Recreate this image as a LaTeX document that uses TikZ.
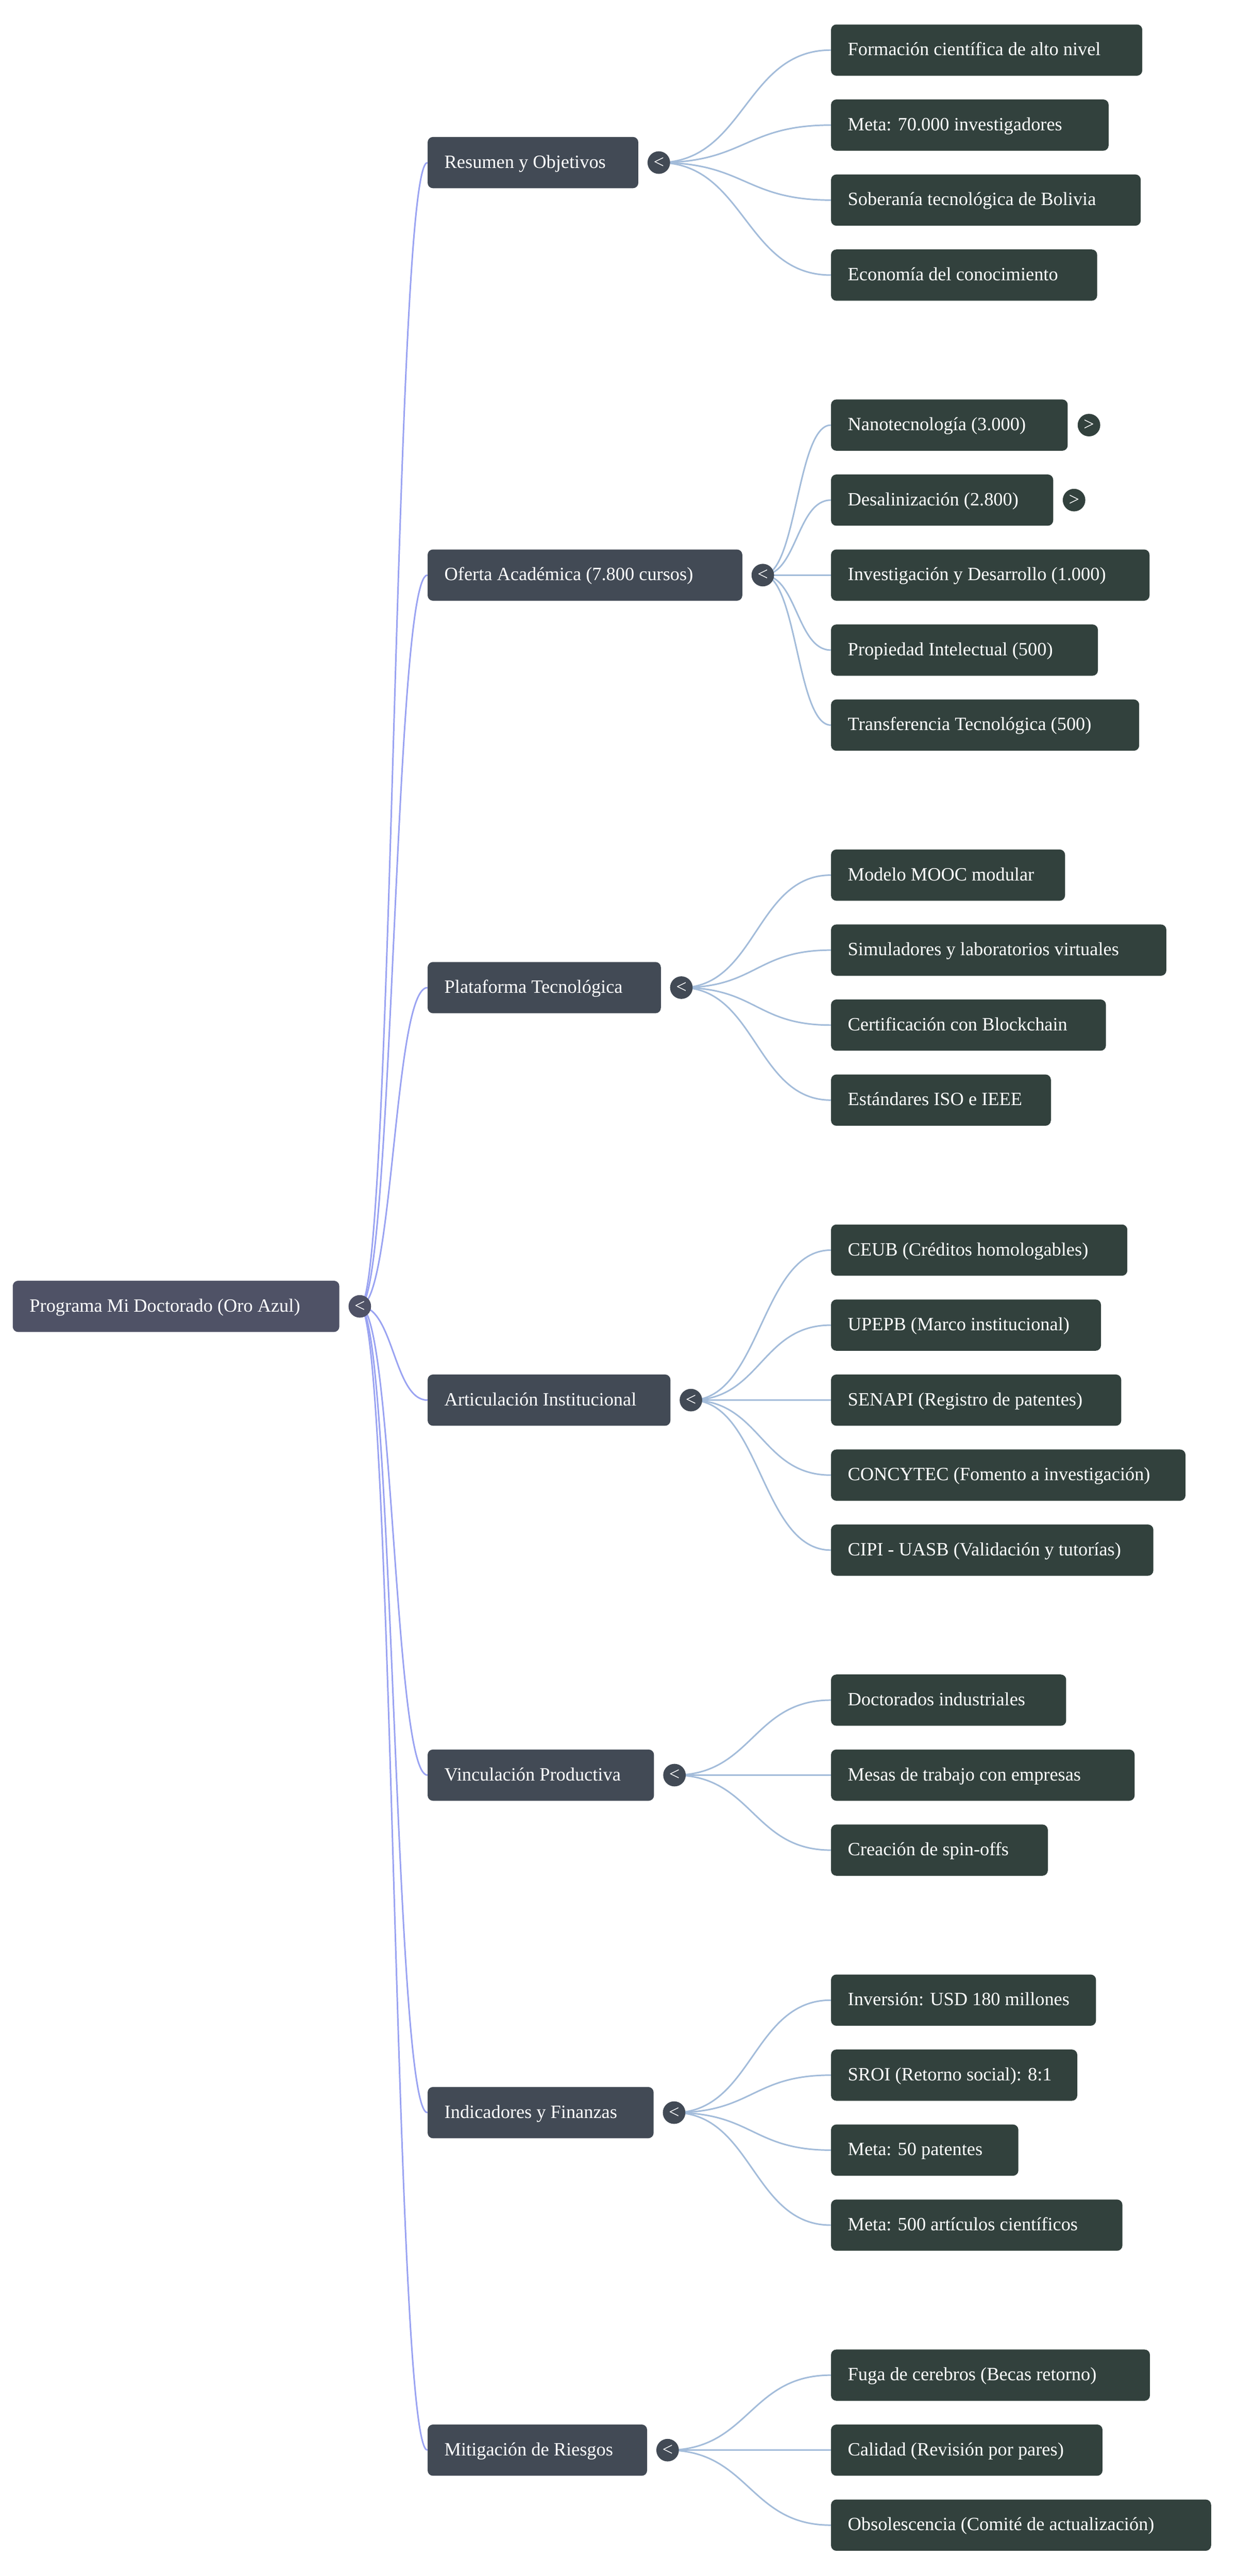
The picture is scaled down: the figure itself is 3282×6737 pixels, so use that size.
\documentclass[tikz,border=0pt]{standalone}
\usepackage{fontspec}
\setmainfont{Liberation Serif}
\usetikzlibrary{calc,backgrounds}
\definecolor{rootc}{HTML}{4F5266}
\definecolor{lvlc}{HTML}{424A55}
\definecolor{leafc}{HTML}{32413D}
\definecolor{rootedgec}{HTML}{9AA3F2}
\definecolor{leafedgec}{HTML}{A3BCDA}
% style, name, left x (px), y (px), right x (px), text
\newcommand\mmbox[6]{%
  \pgfmathsetmacro\mmw{(#5-#3)*0.5-44}%
  \node[#1, anchor=west] (#2) at (#3,#4) {\makebox[\mmw pt][l]{#6}};%
}
% name, x, y, colour, glyph
\newcommand\mmtog[5]{%
  \node[togg, fill=#4] (#1) at (#2,#3) {#5};%
}
% style, from, to
\newcommand\mmlink[3]{%
  \coordinate (mmtmp) at ($(#2)!0.5!(#3)$);%
  \draw[#1] (#2) .. controls (mmtmp |- #2) and (mmtmp |- #3) .. (#3);%
}
\begin{document}
\begin{tikzpicture}[x=0.5pt,y=-0.5pt,
  mmboxs/.style={rounded corners=7pt, inner xsep=22pt, inner ysep=0pt,
    minimum height=67pt, text=white, font=\fontsize{24.5pt}{29pt}\selectfont,
    text height=18.4pt, text depth=4.2pt},
  rootbox/.style={mmboxs, fill=rootc},
  lvlbox/.style={mmboxs, fill=lvlc},
  leafbox/.style={mmboxs, fill=leafc},
  togg/.style={circle, minimum size=29.5pt, inner sep=0pt, text=white,
    font=\fontsize{24.5pt}{29pt}\selectfont},
  rootlink/.style={draw=rootedgec, line width=2pt},
  leaflink/.style={draw=leafedgec, line width=2pt}]
\useasboundingbox (0,0) rectangle (3282,6737);

% root
\mmbox{rootbox}{root}{33}{3416.5}{887}{Programa Mi Doctorado (Oro Azul)}
\mmtog{roott}{941}{3416.5}{rootc}{<}

% level 1
\mmbox{lvlbox}{r1}{1118}{425.2}{1669}{Resumen y Objetivos}
\mmtog{r1t}{1723}{425.2}{lvlc}{<}
\mmbox{lvlbox}{r2}{1118}{1504.05}{1941}{Oferta Académica (7.800 cursos)}
\mmtog{r2t}{1995}{1504.05}{lvlc}{<}
\mmbox{lvlbox}{r3}{1118}{2582.9}{1728}{Plataforma Tecnológica}
\mmtog{r3t}{1782}{2582.9}{lvlc}{<}
\mmbox{lvlbox}{r4}{1118}{3661.7}{1753}{Articulación Institucional}
\mmtog{r4t}{1807}{3661.7}{lvlc}{<}
\mmbox{lvlbox}{r5}{1118}{4642.45}{1710}{Vinculación Productiva}
\mmtog{r5t}{1764}{4642.45}{lvlc}{<}
\mmbox{lvlbox}{r6}{1118}{5525.1}{1709}{Indicadores y Finanzas}
\mmtog{r6t}{1763}{5525.1}{lvlc}{<}
\mmbox{lvlbox}{r7}{1118}{6407.8}{1692}{Mitigación de Riesgos}
\mmtog{r7t}{1746}{6407.8}{lvlc}{<}

% leaves
\mmbox{leafbox}{a1}{2173}{131}{2987}{Formación científica de alto nivel}
\mmbox{leafbox}{a2}{2173}{327.15}{2899}{Meta: 70.000 investigadores}
\mmbox{leafbox}{a3}{2173}{523.3}{2983}{Soberanía tecnológica de Bolivia}
\mmbox{leafbox}{a4}{2173}{719.45}{2869}{Economía del conocimiento}

\mmbox{leafbox}{b1}{2173}{1111.75}{2792}{Nanotecnología (3.000)}
\mmtog{b1t}{2848}{1111.75}{leafc}{>}
\mmbox{leafbox}{b2}{2173}{1307.9}{2754}{Desalinización (2.800)}
\mmtog{b2t}{2809}{1307.9}{leafc}{>}
\mmbox{leafbox}{b3}{2173}{1504.05}{3006}{Investigación y Desarrollo (1.000)}
\mmbox{leafbox}{b4}{2173}{1700.2}{2871}{Propiedad Intelectual (500)}
\mmbox{leafbox}{b5}{2173}{1896.35}{2979}{Transferencia Tecnológica (500)}

\mmbox{leafbox}{c1}{2173}{2288.65}{2785}{Modelo MOOC modular}
\mmbox{leafbox}{c2}{2173}{2484.8}{3050}{Simuladores y laboratorios virtuales}
\mmbox{leafbox}{c3}{2173}{2680.95}{2892}{Certificación con Blockchain}
\mmbox{leafbox}{c4}{2173}{2877.1}{2748}{Estándares ISO e IEEE}

\mmbox{leafbox}{d1}{2173}{3269.4}{2948}{CEUB (Créditos homologables)}
\mmbox{leafbox}{d2}{2173}{3465.55}{2879}{UPEPB (Marco institucional)}
\mmbox{leafbox}{d3}{2173}{3661.7}{2932}{SENAPI (Registro de patentes)}
\mmbox{leafbox}{d4}{2173}{3857.85}{3100}{CONCYTEC (Fomento a investigación)}
\mmbox{leafbox}{d5}{2173}{4054}{3016}{CIPI - UASB (Validación y tutorías)}

\mmbox{leafbox}{e1}{2173}{4446.3}{2788}{Doctorados industriales}
\mmbox{leafbox}{e2}{2173}{4642.45}{2967}{Mesas de trabajo con empresas}
\mmbox{leafbox}{e3}{2173}{4838.6}{2740}{Creación de spin-offs}

\mmbox{leafbox}{f1}{2173}{5230.9}{2866}{Inversión: USD 180 millones}
\mmbox{leafbox}{f2}{2173}{5427.05}{2817}{SROI (Retorno social): 8:1}
\mmbox{leafbox}{f3}{2173}{5623.2}{2663}{Meta: 50 patentes}
\mmbox{leafbox}{f4}{2173}{5819.35}{2935}{Meta: 500 artículos científicos}

\mmbox{leafbox}{g1}{2173}{6211.65}{3007}{Fuga de cerebros (Becas retorno)}
\mmbox{leafbox}{g2}{2173}{6407.8}{2883}{Calidad (Revisión por pares)}
\mmbox{leafbox}{g3}{2173}{6603.95}{3167}{Obsolescencia (Comité de actualización)}

\begin{scope}[on background layer]
  \fill[white] (0,0) rectangle (3282,6737);
  \foreach \c in {r1,r2,r3,r4,r5,r6,r7}{\mmlink{rootlink}{roott.center}{\c.west}}
  \foreach \c in {a1,a2,a3,a4}{\mmlink{leaflink}{r1t.center}{\c.west}}
  \foreach \c in {b1,b2,b3,b4,b5}{\mmlink{leaflink}{r2t.center}{\c.west}}
  \foreach \c in {c1,c2,c3,c4}{\mmlink{leaflink}{r3t.center}{\c.west}}
  \foreach \c in {d1,d2,d3,d4,d5}{\mmlink{leaflink}{r4t.center}{\c.west}}
  \foreach \c in {e1,e2,e3}{\mmlink{leaflink}{r5t.center}{\c.west}}
  \foreach \c in {f1,f2,f3,f4}{\mmlink{leaflink}{r6t.center}{\c.west}}
  \foreach \c in {g1,g2,g3}{\mmlink{leaflink}{r7t.center}{\c.west}}
\end{scope}
\end{tikzpicture}
\end{document}
